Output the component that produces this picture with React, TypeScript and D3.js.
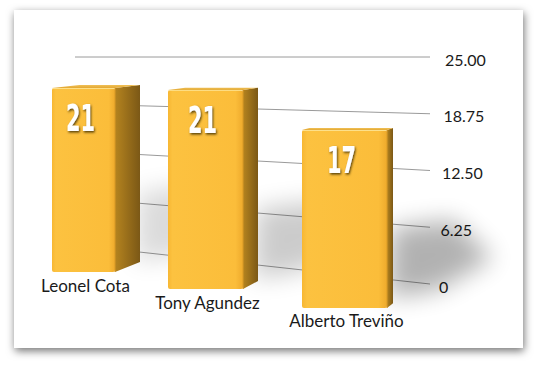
import React from "react";
import * as d3 from "d3";

// ---- data ----
const categories: string[] = ["Leonel Cota", "Tony Agundez", "Alberto Treviño"];
const values: number[] = [21, 21, 17];
const tickValues: number[] = [0, 6.25, 12.5, 18.75, 25];
const tickLabels: string[] = ["0", "6.25", "12.50", "18.75", "25.00"];

// ---- perspective layout (per bar) ----
const frontX0 = [52, 168, 302];
const frontW = [63, 75, 85];
const sideW = [25, 15, 6];
const baseY = [272, 289, 308];
const unitPx = [8.76, 9.48, 10.47];
const labelBase = [292, 309, 327];
const shadowOpacity = [0.14, 0.2, 0.3];
const VP = { x: 772, y: 9 };

const W = 537;
const H = 367;

export default function App() {
  const domain: [number, number] = [0, 25];
  // back-wall gridlines
  const wallRightY = d3.scaleLinear().domain(domain).range([284, 57]);
  const wallSlope = d3.scaleLinear().domain(domain).range([0.11, 0]);
  const wallRightX = 430;
  const wallLeftX = 75;
  const labelX = d3.scaleLinear().domain(domain).range([439, 445]);

  const bars = categories.map((c, i) => {
    const y = d3.scaleLinear().domain(domain).range([baseY[i], baseY[i] - 25 * unitPx[i]]);
    const v = values[i];
    const top = y(v);
    const base = y(0);
    const x0 = frontX0[i];
    const x1 = x0 + frontW[i];
    const x2 = x1 + sideW[i];
    const t = sideW[i] / (VP.x - x1);
    const topBackR = top + t * (VP.y - top);
    const baseBackR = base + t * (VP.y - base);
    const backLx = x0 + t * (VP.x - x0);
    const backLy = top + t * (VP.y - top);
    return { c, i, v, top, base, x0, x1, x2, topBackR, baseBackR, backLx, backLy };
  });

  const line = d3.line<[number, number]>();

  return (
    <svg width={W} height={H} style={{ position: "absolute", left: 0, top: 0 }}>
      <defs>
        <filter id="panelShadow" x="-10%" y="-10%" width="120%" height="125%">
          <feDropShadow dx="1" dy="3" stdDeviation="4" floodColor="#000" floodOpacity="0.55" />
        </filter>
        <filter id="floorBlur" x="-50%" y="-50%" width="200%" height="200%">
          <feGaussianBlur stdDeviation="12" />
        </filter>
        <filter id="txtShadow" x="-30%" y="-30%" width="160%" height="160%">
          <feDropShadow dx="1" dy="1.5" stdDeviation="1" floodColor="#3a2a00" floodOpacity="0.85" />
        </filter>
        <linearGradient id="frontGrad" x1="0" y1="0" x2="1" y2="0">
          <stop offset="0" stopColor="#f7b733" />
          <stop offset="0.06" stopColor="#fcc240" />
          <stop offset="0.9" stopColor="#fbbd3a" />
          <stop offset="1" stopColor="#eeaa2c" />
        </linearGradient>
        <linearGradient id="sideGrad" x1="0" y1="0" x2="1" y2="0">
          <stop offset="0" stopColor="#b5841f" />
          <stop offset="1" stopColor="#7b5816" />
        </linearGradient>
        <linearGradient id="topGrad" x1="0" y1="0" x2="0" y2="1">
          <stop offset="0" stopColor="#f0c055" />
          <stop offset="1" stopColor="#e2a733" />
        </linearGradient>
      </defs>

      <rect x={0} y={0} width={W} height={H} fill="#ffffff" />
      <rect x={14} y={10} width={509} height={338} fill="#ffffff" filter="url(#panelShadow)" />

      {/* gridlines on back wall */}
      {tickValues.map((tv, k) => {
        const yR = wallRightY(tv);
        const s = wallSlope(tv);
        const yL = yR - (wallRightX - wallLeftX) * s;
        return (
          <g key={"g" + k}>
            <path
              d={line([[wallLeftX, yL], [wallRightX, yR]]) || ""}
              stroke="#9a9a9a"
              strokeWidth={1}
              fill="none"
            />
            <text
              x={labelX(tv)}
              y={yR + 8.5}
              fontFamily="Lato, 'Open Sans', sans-serif"
              fontSize={16}
              fill="#1a1a1a"
            >
              {tickLabels[k]}
            </text>
          </g>
        );
      })}

      {/* floor shadows */}
      {bars.map((b) => (
        <polygon
          key={"s" + b.i}
          points={[
            [b.x2 - 4, b.base - 10],
            [b.x2 - 2, b.base - 80],
            [b.x2 + 60, b.base - 88],
            [b.x2 + 100, b.base - 50],
            [b.x2 + 45, b.base - 18],
          ]
            .map((p) => p.join(","))
            .join(" ")}
          fill="#000"
          opacity={shadowOpacity[b.i]}
          filter="url(#floorBlur)"
        />
      ))}

      {/* bars */}
      {bars.map((b) => (
        <g key={"b" + b.i}>
          <polygon
            points={[
              [b.x1, b.top],
              [b.x2, b.topBackR],
              [b.x2, b.baseBackR],
              [b.x1, b.base],
            ]
              .map((p) => p.join(","))
              .join(" ")}
            fill="url(#sideGrad)"
          />
          <polygon
            points={[
              [b.x0, b.top],
              [b.x1, b.top],
              [b.x2, b.topBackR],
              [b.backLx, b.backLy],
            ]
              .map((p) => p.join(","))
              .join(" ")}
            fill="url(#topGrad)"
          />
          <rect
            x={b.x0}
            y={b.top}
            width={b.x1 - b.x0}
            height={b.base - b.top}
            rx={2}
            fill="url(#frontGrad)"
          />
          <line x1={b.x0 + 1} x2={b.x1 - 1} y1={b.top + 0.5} y2={b.top + 0.5} stroke="#fde08a" strokeWidth={1} />
          <line x1={b.x1} x2={b.x1} y1={b.top} y2={b.base} stroke="#d99a26" strokeWidth={1} />
          <text
            x={(b.x0 + b.x1) / 2 - 3}
            y={b.top + 43}
            textAnchor="middle"
            fontFamily="'DejaVu Sans Condensed', 'DejaVu Sans', sans-serif"
            fontWeight="bold"
            fontSize={37}
            fill="#ffffff"
            textLength={29}
            lengthAdjust="spacingAndGlyphs"
            filter="url(#txtShadow)"
          >
            {b.v}
          </text>
          <text
            x={(b.x0 + b.x1) / 2 + 2}
            y={labelBase[b.i]}
            textAnchor="middle"
            fontFamily="Lato, 'Open Sans', sans-serif"
            fontSize={17}
            fill="#1a1a1a"
          >
            {b.c}
          </text>
        </g>
      ))}
    </svg>
  );
}
